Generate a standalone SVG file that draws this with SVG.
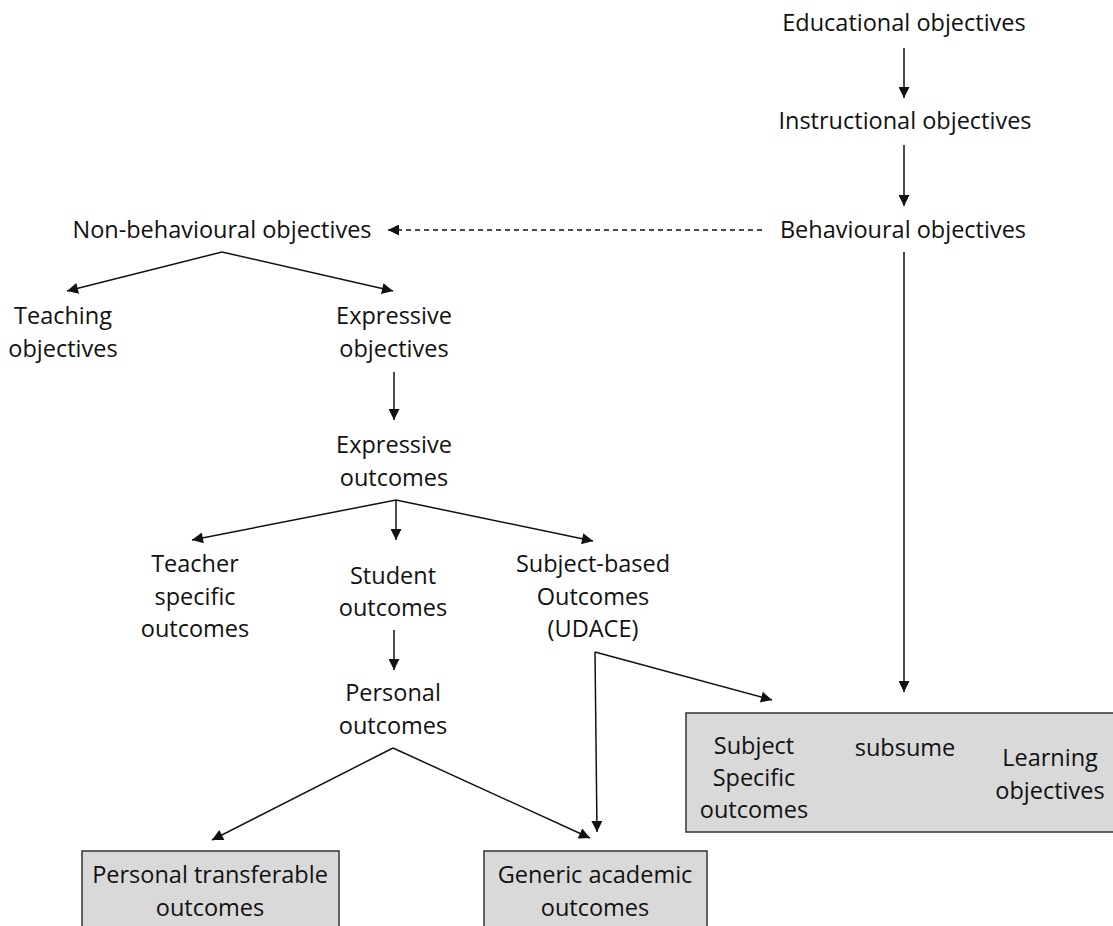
<svg xmlns="http://www.w3.org/2000/svg" width="1113" height="926" viewBox="0 0 1113 926">
<style>
text{font-family:"Open Sans","Liberation Sans",sans-serif;font-size:23.5px;fill:#111;text-anchor:middle}
.c{stroke:#111;stroke-width:1.5;fill:none}
.d{stroke-dasharray:5 4}
.box{fill:#d9d9d9;stroke:#333;stroke-width:1.5}
</style>
<defs>
<marker id="ah" viewBox="0 0 10 10" refX="10" refY="5" markerWidth="18" markerHeight="11" markerUnits="userSpaceOnUse" orient="auto"><path d="M0,0L10,5L0,10z" fill="#111"/></marker>
</defs>
<rect width="1113" height="926" fill="#fff"/>
<g id="connectors">
<line class="c" x1="904" y1="48" x2="904" y2="98" marker-end="url(#ah)"/>
<line class="c" x1="904" y1="145" x2="904" y2="206" marker-end="url(#ah)"/>
<line class="c d" x1="762" y1="230" x2="388" y2="230" marker-end="url(#ah)"/>
<line class="c" x1="222" y1="252" x2="67" y2="291" marker-end="url(#ah)"/>
<line class="c" x1="222" y1="252" x2="393" y2="291" marker-end="url(#ah)"/>
<line class="c" x1="394" y1="372" x2="394" y2="420" marker-end="url(#ah)"/>
<line class="c" x1="396" y1="500" x2="192" y2="540" marker-end="url(#ah)"/>
<line class="c" x1="396" y1="500" x2="396" y2="540" marker-end="url(#ah)"/>
<line class="c" x1="396" y1="500" x2="593" y2="541" marker-end="url(#ah)"/>
<line class="c" x1="394" y1="630" x2="394" y2="670" marker-end="url(#ah)"/>
<line class="c" x1="393" y1="748" x2="212" y2="840" marker-end="url(#ah)"/>
<line class="c" x1="393" y1="748" x2="590" y2="838" marker-end="url(#ah)"/>
<line class="c" x1="595" y1="652" x2="772" y2="700" marker-end="url(#ah)"/>
<line class="c" x1="595" y1="652" x2="597" y2="832" marker-end="url(#ah)"/>
<line class="c" x1="904" y1="252" x2="904" y2="692" marker-end="url(#ah)"/>
</g>
<g id="educational"><text x="904" y="31">Educational objectives</text></g>
<g id="instructional"><text x="905" y="129">Instructional objectives</text></g>
<g id="behavioural"><text x="903" y="238">Behavioural objectives</text></g>
<g id="nonbehavioural"><text x="222" y="238">Non-behavioural objectives</text></g>
<g id="teaching"><text x="63" y="324">Teaching</text><text x="63" y="357">objectives</text></g>
<g id="expressive-obj"><text x="394" y="324">Expressive</text><text x="394" y="357">objectives</text></g>
<g id="expressive-out"><text x="394" y="453">Expressive</text><text x="394" y="486">outcomes</text></g>
<g id="teacher"><text x="195" y="572">Teacher</text><text x="195" y="605">specific</text><text x="195" y="637">outcomes</text></g>
<g id="student"><text x="393" y="584">Student</text><text x="393" y="616">outcomes</text></g>
<g id="subjectbased"><text x="593" y="572">Subject-based</text><text x="593" y="605">Outcomes</text><text x="593" y="637">(UDACE)</text></g>
<g id="personal"><text x="393" y="701">Personal</text><text x="393" y="734">outcomes</text></g>
<g id="learning-box"><rect class="box" x="686" y="713" width="440" height="119"/>
<text x="754" y="754">Subject</text><text x="754" y="786">Specific</text><text x="754" y="818">outcomes</text>
<text x="905" y="756">subsume</text>
<text x="1050" y="766">Learning</text><text x="1050" y="799">objectives</text></g>
<g id="personal-transferable"><rect class="box" x="82" y="851" width="257" height="90"/>
<text x="210" y="883">Personal transferable</text><text x="210" y="916">outcomes</text></g>
<g id="generic"><rect class="box" x="484" y="851" width="223" height="90"/>
<text x="595" y="883">Generic academic</text><text x="595" y="916">outcomes</text></g>
</svg>
